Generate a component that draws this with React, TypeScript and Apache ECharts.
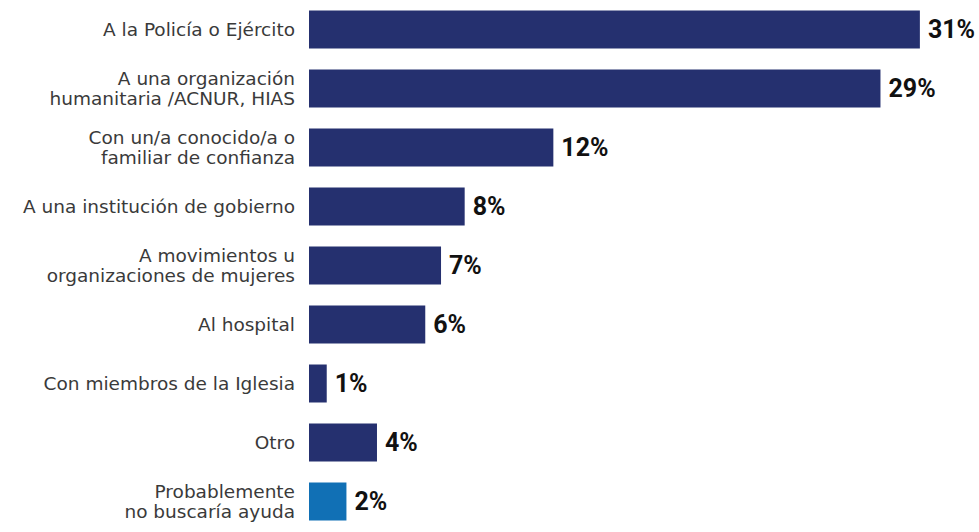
import React, { useEffect, useRef } from "react";
import * as echarts from "echarts";

const categories = [
  "A la Policía o Ejército",
  "A una organización\nhumanitaria /ACNUR, HIAS",
  "Con un/a conocido/a o\nfamiliar de confianza",
  "A una institución de gobierno",
  "A movimientos u\norganizaciones de mujeres",
  "Al hospital",
  "Con miembros de la Iglesia",
  "Otro",
  "Probablemente\nno buscaría ayuda",
];
const values = [31, 29, 12.4, 7.9, 6.7, 5.9, 0.9, 3.45, 1.9];
const valueLabels = ["31%", "29%", "12%", "8%", "7%", "6%", "1%", "4%", "2%"];
const barColors = ["#25306f", "#25306f", "#25306f", "#25306f", "#25306f", "#25306f", "#25306f", "#25306f", "#1170b5"];

export default function App() {
  const ref = useRef<HTMLDivElement>(null);
  useEffect(() => {
    if (!ref.current) return;
    const chart = echarts.init(ref.current, undefined, { renderer: "svg" });
    chart.setOption({
      animation: false,
      backgroundColor: "#ffffff",
      grid: { left: 309, right: 0, top: -2, bottom: 1, containLabel: false },
      xAxis: {
        type: "value",
        min: 0,
        max: 34,
        show: false,
      },
      yAxis: {
        type: "category",
        inverse: true,
        data: categories,
        axisLine: { show: false },
        axisTick: { show: false },
        splitLine: { show: false },
        axisLabel: {
          margin: 14,
          color: "#3a3a3a",
          fontFamily: "DejaVu Sans",
          fontSize: 18.5,
          lineHeight: 20,
          align: "right",
          padding: [0, 0, 4, 0],
        },
      },
      series: [
        {
          type: "bar",
          barWidth: 38,
          data: values.map((v, i) => ({
            value: v,
            itemStyle: { color: barColors[i] },
            label: { formatter: valueLabels[i] },
          })),
          label: {
            show: true,
            position: "right",
            distance: 8,
            color: "#111111",
            fontFamily: "Roboto",
            fontWeight: "bold",
            fontSize: 25,
          },
        },
      ],
    });
    return () => chart.dispose();
  }, []);
  return (
    <div style={{ position: "fixed", left: 0, top: 0, width: 979, height: 532, background: "#fff" }}>
      <div ref={ref} style={{ width: 979, height: 532 }} />
    </div>
  );
}
